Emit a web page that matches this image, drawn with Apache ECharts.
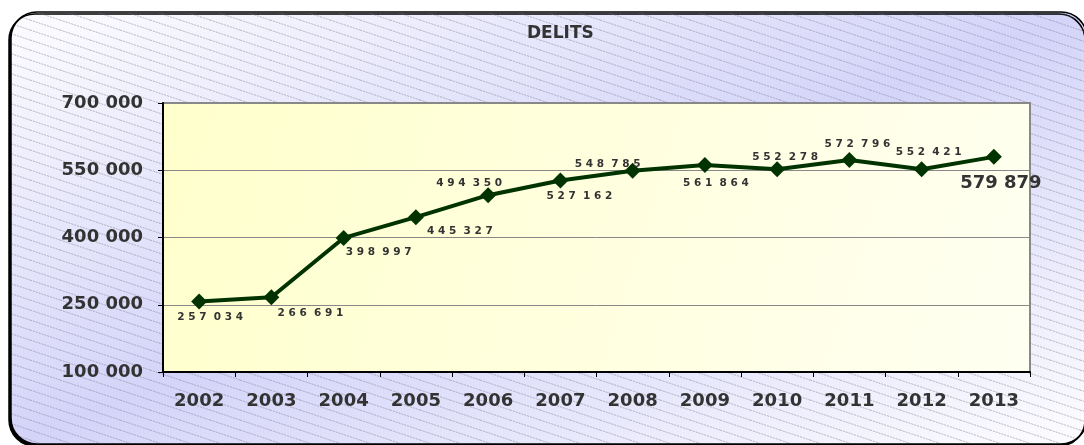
<!DOCTYPE html>
<html>
<head>
<meta charset="utf-8">
<script src="https://cdn.jsdelivr.net/npm/echarts@6/dist/echarts.min.js"></script>
<style>
  html, body { margin: 0; padding: 0; background: #fff; }
  #chart { width: 1084px; height: 445px; }
</style>
</head>
<body>
<div id="chart"></div>
<script>
// data
const years = ['2002', '2003', '2004', '2005', '2006', '2007', '2008', '2009', '2010', '2011', '2012', '2013']
const delits = [257034, 266691, 398997, 445327, 494350, 527162, 548785, 561864, 552278, 572796, 552421, 579879]
const yTicks = [100000, 250000, 400000, 550000, 700000]

// where each value label sits relative to its point
const labelOffsets = [[11, 16], [39, 16], [35, 14], [44, 14], [-19, -12], [19, 16],
  [-25, -7], [11, 18], [8, -12], [8, -16], [7, -17], [7, 26]]

const FONT = 'DejaVu Sans'
const TXT = '#333333'

function fmt(v) {
  return String(v).replace(/\B(?=(\d{3})+(?!\d))/g, ' ')
}
// spaced-out digits like the original labels
function spaced(v) {
  return fmt(v).split(' ').map(g => g.split('').join(' ')).join('  ')
}

// diagonal hatch tile
function hatch(color) {
  const c = document.createElement('canvas')
  c.width = 30
  c.height = 10
  const ctx = c.getContext('2d')
  ctx.strokeStyle = color
  ctx.lineWidth = 1
  ctx.setLineDash([2, 1])
  for (const dy of [-10, 0, 10]) {
    ctx.beginPath()
    ctx.moveTo(0, dy)
    ctx.lineTo(30, dy + 10)
    ctx.stroke()
  }
  return c
}

// frame box (runs a bit past the right/bottom edge like the original)
// gradient runs so that top-right and bottom-left corners are the darkest
const fx = 11, fy = 12, fw = 1076, fh = 432
const vx = fh, vy = fw
const s = fw * fh / (vx * vx + vy * vy)
const cx = fx + fw / 2, cy = fy + fh / 2

const chart = echarts.init(document.getElementById('chart'))

const seriesData = delits.map((v, i) => {
  const last = i === delits.length - 1
  return {
    value: v,
    label: {
      offset: labelOffsets[i],
      fontSize: last ? 18 : 10.5,
      formatter: last ? fmt(v) : spaced(v)
    }
  }
})

chart.setOption({
  animation: false,
  graphic: [
    {
      type: 'rect',
      z: -20,
      shape: { x: fx, y: fy, width: fw, height: fh, r: 26 },
      style: {
        fill: {
          type: 'linear',
          x: cx - s * vx, y: cy - s * vy,
          x2: cx + s * vx, y2: cy + s * vy,
          global: true,
          colorStops: [
            { offset: 0, color: '#fdfdff' },
            { offset: 0.5, color: '#d4d4f9' },
            { offset: 1, color: '#fdfdff' }
          ]
        },
        stroke: '#000',
        lineWidth: 1.5,
        shadowColor: '#000',
        shadowBlur: 0,
        shadowOffsetX: -2,
        shadowOffsetY: 2
      }
    },
    {
      type: 'rect',
      z: -19,
      shape: { x: fx + 1, y: fy + 1, width: fw - 2, height: fh - 2, r: 25 },
      style: {
        fill: { image: hatch('rgba(120,120,135,0.5)'), repeat: 'repeat' }
      }
    }
  ],
  title: {
    text: 'DELITS',
    left: 527,
    top: 25,
    padding: 0,
    textStyle: { fontFamily: FONT, fontSize: 17, fontWeight: 'bold', color: TXT }
  },
  grid: {
    left: 163,
    right: 54,
    top: 103,
    bottom: 73,
    show: true,
    borderColor: '#888',
    borderWidth: 2,
    backgroundColor: {
      type: 'linear', x: 0, y: 0, x2: 1, y2: 1,
      colorStops: [
        { offset: 0, color: '#ffffcc' },
        { offset: 1, color: '#fffff2' }
      ]
    }
  },
  xAxis: {
    type: 'category',
    data: years,
    boundaryGap: true,
    axisLine: { lineStyle: { color: '#000', width: 2 } },
    axisTick: { show: true, length: 5, lineStyle: { color: '#000', width: 1 } },
    axisLabel: { margin: 20, fontFamily: FONT, fontSize: 18, fontWeight: 'bold', color: TXT },
    splitLine: { show: false }
  },
  yAxis: {
    type: 'value',
    min: yTicks[0],
    max: yTicks[yTicks.length - 1],
    interval: yTicks[1] - yTicks[0],
    axisLine: { show: true, lineStyle: { color: '#000', width: 2 } },
    axisTick: { show: true, length: 5, lineStyle: { color: '#000', width: 1 } },
    axisLabel: {
      margin: 20,
      fontFamily: FONT,
      fontSize: 18,
      fontWeight: 'bold',
      color: TXT,
      formatter: v => fmt(v)
    },
    splitLine: { show: true, lineStyle: { color: '#888', width: 1 } }
  },
  series: [{
    type: 'line',
    data: seriesData,
    symbol: 'diamond',
    symbolSize: 16,
    lineStyle: { color: '#003300', width: 4 },
    itemStyle: { color: '#003300' },
    label: {
      show: true,
      position: 'inside',
      fontFamily: FONT,
      fontWeight: 'bold',
      color: TXT
    }
  }]
})
</script>
</body>
</html>
